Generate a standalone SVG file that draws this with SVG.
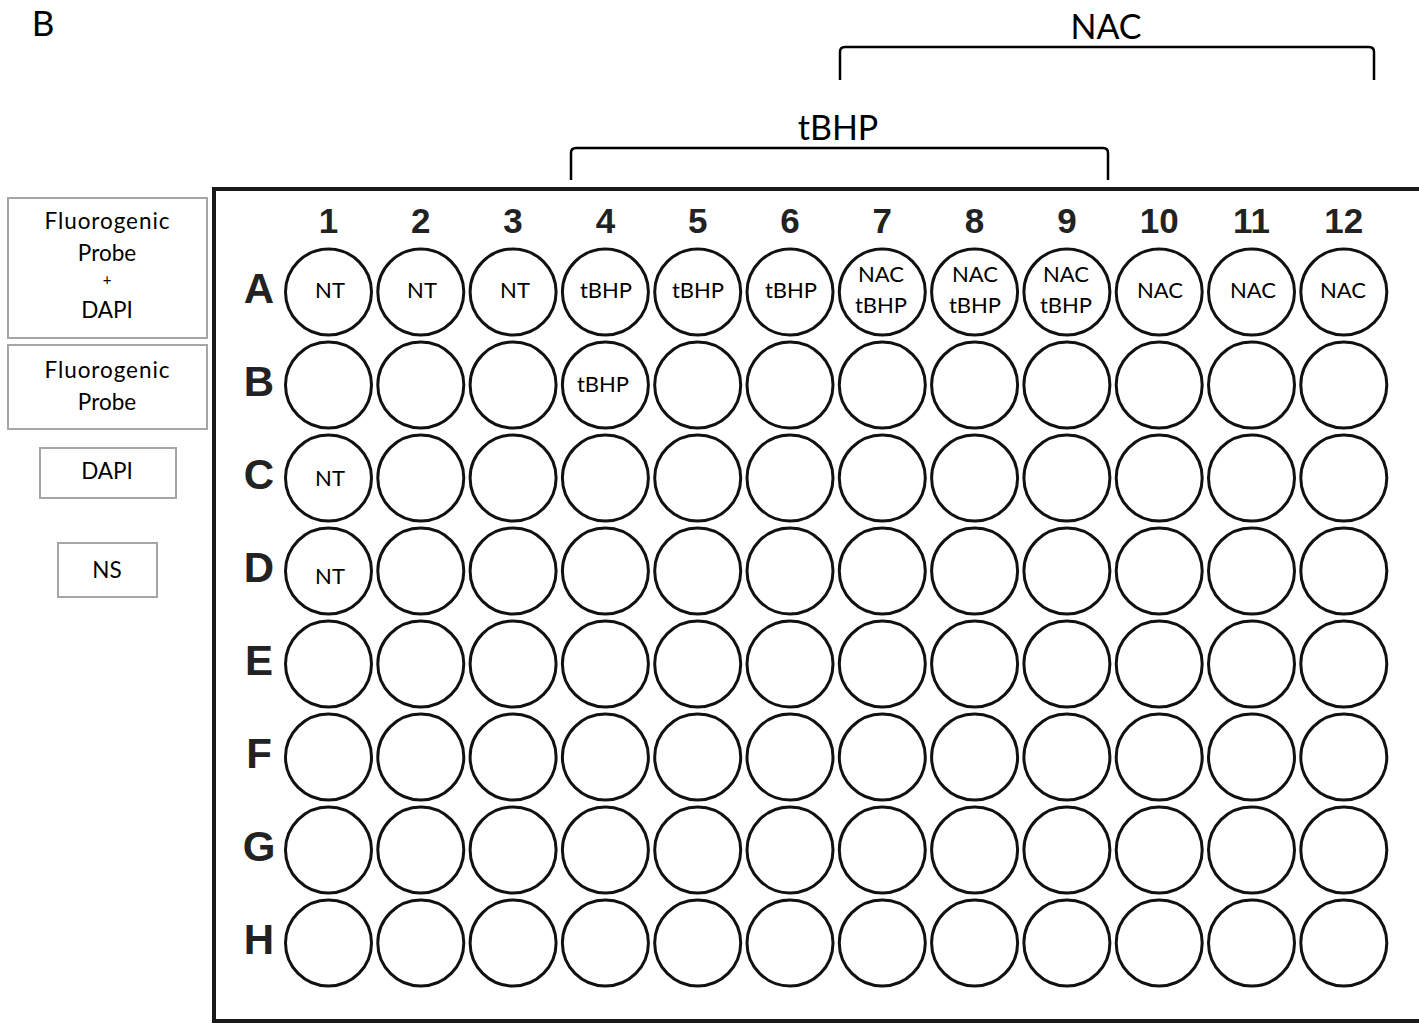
<svg xmlns="http://www.w3.org/2000/svg" width="1419" height="1026" viewBox="0 0 1419 1026">
<style>
.lbl{font-family:Lato,"Open Sans","Liberation Sans",sans-serif;fill:#000;text-anchor:middle}
.well{fill:#fff;stroke:#111;stroke-width:3}
.wt{font-family:Lato,"Liberation Sans",sans-serif;font-size:22px;text-anchor:middle;fill:#000}
.num{font-family:"Liberation Sans",Arial,sans-serif;font-weight:bold;font-size:35px;text-anchor:middle;fill:#222}
.row{font-family:"Liberation Sans",Arial,sans-serif;font-weight:bold;font-size:42px;text-anchor:middle;fill:#222}
.box{fill:#fff;stroke:#a6a6a6;stroke-width:2}
.br{fill:none;stroke:#000;stroke-width:2.5}
</style>
<rect width="1419" height="1026" fill="#fff"/>
<text x="43" y="36" class="lbl" font-size="35">B</text>

<g id="legend">
<g id="leg1"><rect class="box" x="8" y="198" width="199" height="140"/>
<text class="lbl" font-size="22.5" x="107" y="229" textLength="125" lengthAdjust="spacing">Fluorogenic</text>
<text class="lbl" font-size="22.5" x="107" y="261">Probe</text>
<text class="lbl" font-size="15" x="107" y="285">+</text>
<text class="lbl" font-size="22.5" x="107" y="318">DAPI</text></g>
<g id="leg2"><rect class="box" x="8" y="345" width="199" height="84"/>
<text class="lbl" font-size="22.5" x="107" y="378" textLength="125" lengthAdjust="spacing">Fluorogenic</text>
<text class="lbl" font-size="22.5" x="107" y="410">Probe</text></g>
<g id="leg3"><rect class="box" x="40" y="448" width="136" height="50"/>
<text class="lbl" font-size="22.5" x="107" y="479">DAPI</text></g>
<g id="leg4"><rect class="box" x="58" y="543" width="99" height="54"/>
<text class="lbl" font-size="22.5" x="107" y="578">NS</text></g>
</g>

<g id="brackets">
<path class="br" d="M571,180 V153 Q571,148 576,148 H1103 Q1108,148 1108,153 V180"/>
<text class="lbl" font-size="34" x="838" y="140">tBHP</text>
<path class="br" d="M840,80 V52 Q840,47 845,47 H1369 Q1374,47 1374,52 V80"/>
<text class="lbl" font-size="34" x="1106" y="39">NAC</text>
</g>

<g id="plate">
<path d="M1421,189 H214 V1021 H1421" fill="none" stroke="#1a1a1a" stroke-width="4"/>
<g id="colnums">
<text class="num" x="328.5" y="233">1</text>
<text class="num" x="420.8" y="233">2</text>
<text class="num" x="513.1" y="233">3</text>
<text class="num" x="605.4" y="233">4</text>
<text class="num" x="697.7" y="233">5</text>
<text class="num" x="790" y="233">6</text>
<text class="num" x="882.3" y="233">7</text>
<text class="num" x="974.6" y="233">8</text>
<text class="num" x="1066.9" y="233">9</text>
<text class="num" x="1159.2" y="233">10</text>
<text class="num" x="1251.5" y="233">11</text>
<text class="num" x="1343.8" y="233">12</text>
</g>
<g id="rowletters">
<text class="row" x="259" y="303">A</text>
<text class="row" x="259" y="396">B</text>
<text class="row" x="259" y="489">C</text>
<text class="row" x="259" y="582">D</text>
<text class="row" x="259" y="675">E</text>
<text class="row" x="259" y="768">F</text>
<text class="row" x="259" y="861">G</text>
<text class="row" x="259" y="954">H</text>
</g>
<g id="wells">
<g id="rowA">
<circle class="well" cx="328.5" cy="292" r="43"/><circle class="well" cx="420.8" cy="292" r="43"/><circle class="well" cx="513.1" cy="292" r="43"/><circle class="well" cx="605.4" cy="292" r="43"/><circle class="well" cx="697.7" cy="292" r="43"/><circle class="well" cx="790" cy="292" r="43"/><circle class="well" cx="882.3" cy="292" r="43"/><circle class="well" cx="974.6" cy="292" r="43"/><circle class="well" cx="1066.9" cy="292" r="43"/><circle class="well" cx="1159.2" cy="292" r="43"/><circle class="well" cx="1251.5" cy="292" r="43"/><circle class="well" cx="1343.8" cy="292" r="43"/>
</g>
<g id="rowB">
<circle class="well" cx="328.5" cy="385" r="43"/><circle class="well" cx="420.8" cy="385" r="43"/><circle class="well" cx="513.1" cy="385" r="43"/><circle class="well" cx="605.4" cy="385" r="43"/><circle class="well" cx="697.7" cy="385" r="43"/><circle class="well" cx="790" cy="385" r="43"/><circle class="well" cx="882.3" cy="385" r="43"/><circle class="well" cx="974.6" cy="385" r="43"/><circle class="well" cx="1066.9" cy="385" r="43"/><circle class="well" cx="1159.2" cy="385" r="43"/><circle class="well" cx="1251.5" cy="385" r="43"/><circle class="well" cx="1343.8" cy="385" r="43"/>
</g>
<g id="rowC">
<circle class="well" cx="328.5" cy="478" r="43"/><circle class="well" cx="420.8" cy="478" r="43"/><circle class="well" cx="513.1" cy="478" r="43"/><circle class="well" cx="605.4" cy="478" r="43"/><circle class="well" cx="697.7" cy="478" r="43"/><circle class="well" cx="790" cy="478" r="43"/><circle class="well" cx="882.3" cy="478" r="43"/><circle class="well" cx="974.6" cy="478" r="43"/><circle class="well" cx="1066.9" cy="478" r="43"/><circle class="well" cx="1159.2" cy="478" r="43"/><circle class="well" cx="1251.5" cy="478" r="43"/><circle class="well" cx="1343.8" cy="478" r="43"/>
</g>
<g id="rowD">
<circle class="well" cx="328.5" cy="571" r="43"/><circle class="well" cx="420.8" cy="571" r="43"/><circle class="well" cx="513.1" cy="571" r="43"/><circle class="well" cx="605.4" cy="571" r="43"/><circle class="well" cx="697.7" cy="571" r="43"/><circle class="well" cx="790" cy="571" r="43"/><circle class="well" cx="882.3" cy="571" r="43"/><circle class="well" cx="974.6" cy="571" r="43"/><circle class="well" cx="1066.9" cy="571" r="43"/><circle class="well" cx="1159.2" cy="571" r="43"/><circle class="well" cx="1251.5" cy="571" r="43"/><circle class="well" cx="1343.8" cy="571" r="43"/>
</g>
<g id="rowE">
<circle class="well" cx="328.5" cy="664" r="43"/><circle class="well" cx="420.8" cy="664" r="43"/><circle class="well" cx="513.1" cy="664" r="43"/><circle class="well" cx="605.4" cy="664" r="43"/><circle class="well" cx="697.7" cy="664" r="43"/><circle class="well" cx="790" cy="664" r="43"/><circle class="well" cx="882.3" cy="664" r="43"/><circle class="well" cx="974.6" cy="664" r="43"/><circle class="well" cx="1066.9" cy="664" r="43"/><circle class="well" cx="1159.2" cy="664" r="43"/><circle class="well" cx="1251.5" cy="664" r="43"/><circle class="well" cx="1343.8" cy="664" r="43"/>
</g>
<g id="rowF">
<circle class="well" cx="328.5" cy="757" r="43"/><circle class="well" cx="420.8" cy="757" r="43"/><circle class="well" cx="513.1" cy="757" r="43"/><circle class="well" cx="605.4" cy="757" r="43"/><circle class="well" cx="697.7" cy="757" r="43"/><circle class="well" cx="790" cy="757" r="43"/><circle class="well" cx="882.3" cy="757" r="43"/><circle class="well" cx="974.6" cy="757" r="43"/><circle class="well" cx="1066.9" cy="757" r="43"/><circle class="well" cx="1159.2" cy="757" r="43"/><circle class="well" cx="1251.5" cy="757" r="43"/><circle class="well" cx="1343.8" cy="757" r="43"/>
</g>
<g id="rowG">
<circle class="well" cx="328.5" cy="850" r="43"/><circle class="well" cx="420.8" cy="850" r="43"/><circle class="well" cx="513.1" cy="850" r="43"/><circle class="well" cx="605.4" cy="850" r="43"/><circle class="well" cx="697.7" cy="850" r="43"/><circle class="well" cx="790" cy="850" r="43"/><circle class="well" cx="882.3" cy="850" r="43"/><circle class="well" cx="974.6" cy="850" r="43"/><circle class="well" cx="1066.9" cy="850" r="43"/><circle class="well" cx="1159.2" cy="850" r="43"/><circle class="well" cx="1251.5" cy="850" r="43"/><circle class="well" cx="1343.8" cy="850" r="43"/>
</g>
<g id="rowH">
<circle class="well" cx="328.5" cy="943" r="43"/><circle class="well" cx="420.8" cy="943" r="43"/><circle class="well" cx="513.1" cy="943" r="43"/><circle class="well" cx="605.4" cy="943" r="43"/><circle class="well" cx="697.7" cy="943" r="43"/><circle class="well" cx="790" cy="943" r="43"/><circle class="well" cx="882.3" cy="943" r="43"/><circle class="well" cx="974.6" cy="943" r="43"/><circle class="well" cx="1066.9" cy="943" r="43"/><circle class="well" cx="1159.2" cy="943" r="43"/><circle class="well" cx="1251.5" cy="943" r="43"/><circle class="well" cx="1343.8" cy="943" r="43"/>
</g>
</g>
<g id="welllabels">
<text class="wt" x="330" y="298">NT</text>
<text class="wt" x="422" y="298">NT</text>
<text class="wt" x="515" y="298">NT</text>
<text class="wt" x="606" y="298">tBHP</text>
<text class="wt" x="698" y="298">tBHP</text>
<text class="wt" x="791" y="298">tBHP</text>
<text class="wt" x="881" y="282">NAC</text><text class="wt" x="881" y="313">tBHP</text>
<text class="wt" x="975" y="282">NAC</text><text class="wt" x="975" y="313">tBHP</text>
<text class="wt" x="1066" y="282">NAC</text><text class="wt" x="1066" y="313">tBHP</text>
<text class="wt" x="1160" y="298">NAC</text>
<text class="wt" x="1253" y="298">NAC</text>
<text class="wt" x="1343" y="298">NAC</text>
<text class="wt" x="603" y="392">tBHP</text>
<text class="wt" x="330" y="486">NT</text>
<text class="wt" x="330" y="584">NT</text>
</g>
</g>
</svg>
